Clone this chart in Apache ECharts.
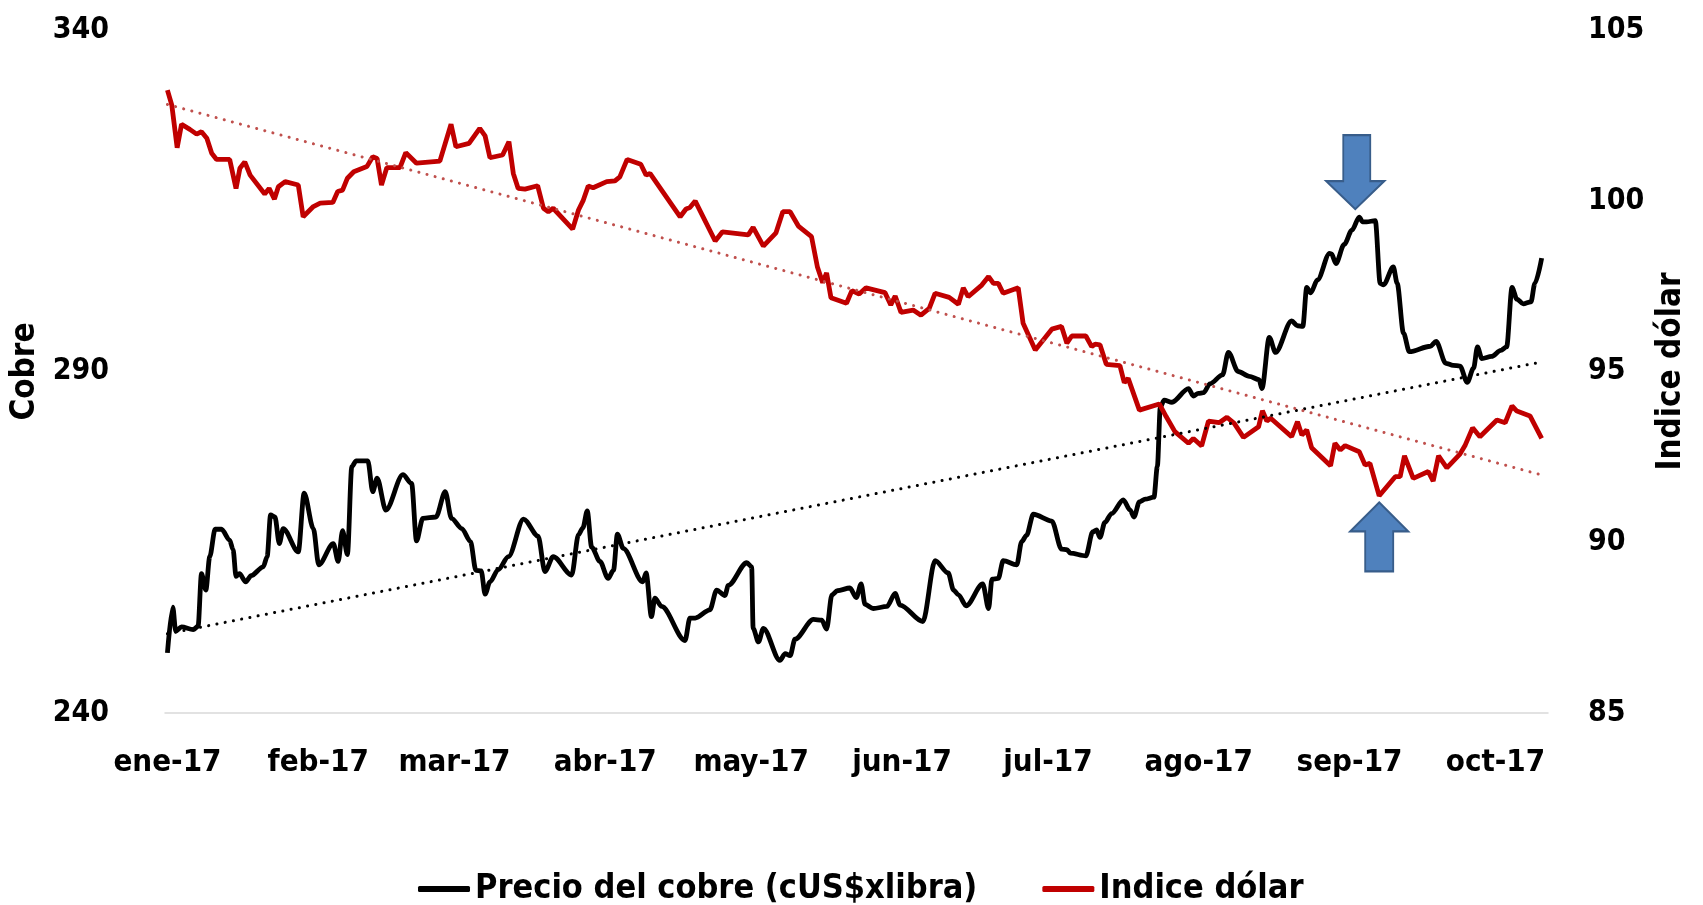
<!DOCTYPE html>
<html>
<head>
<meta charset="utf-8">
<title>Cobre vs Indice dólar</title>
<script src="https://cdn.jsdelivr.net/npm/echarts@6/dist/echarts.min.js"></script>
<style>
  html, body { margin: 0; padding: 0; background: #fff; }
  #chart { width: 1703px; height: 905px; }
</style>
</head>
<body>
<div id="chart"></div>
<script>
// x values are days counted from 3 Jan 2017
var monthDays = [0, 31, 59, 90, 120, 151, 181, 212, 243, 273];
var monthLabels = ['ene-17', 'feb-17', 'mar-17', 'abr-17', 'may-17', 'jun-17', 'jul-17', 'ago-17', 'sep-17', 'oct-17'];

var copperDay = [0,1.1,1.7,2.9,5.3,6.3,7.0,7.9,8.7,9.8,
  11.1,12.8,13.5,14.1,14.8,16.1,17.2,19.7,20.5,21.2,
  22.1,23.0,23.8,26.9,28.1,30.0,31.1,34.1,35.1,36.0,
  37.0,37.9,38.8,41.2,42.2,43.1,44.9,48.4,50.2,51.2,
  52.5,55.2,57.1,58.4,60.5,62.3,63.4,64.5,65.3,66.3,
  68.0,70.1,73.2,76.2,77.6,79.3,83.1,84.5,85.4,86.3,
  87.2,88.9,90.6,91.7,92.5,93.7,97.7,98.4,99.5,100.2,
  101.6,106.4,107.4,108.5,111.5,112.9,114.6,115.3,119.1,120.1,
  120.4,121.5,122.5,125.9,127.0,128.0,129.0,132.8,134.5,135.5,
  136.6,137.7,140.3,141.6,142.6,143.4,145.1,147.9,149.6,150.6,
  155.3,157.8,160.5,161.6,162.6,164.2,167.6,168.8,169.5,170.8,
  171.8,174.6,175.6,176.6,178.0,181.8,183.8,184.9,185.6,188.8,
  190.2,191.0,191.7,192.7,194.1,196.5,197.9,198.7,199.8,201.0,
  202.8,203.5,204.1,204.9,206.5,209.9,210.9,211.9,213.0,214.3,
  216.9,218.1,220.1,222.4,224.4,225.0,226.5,227.8,231.1,232.3,
  233.4,234.2,235.0,236.4,238.9,239.3,240.2,241.9,243.5,245.0,
  245.7,246.5,248.3,249.3,250.0,252.0,252.8,254.1,255.3,259.6,
  260.8,262.8,264.3,265.7,267.2,268.5,269.3,270.2,272.2,274.1,
  275.3,276.4,277.4,278.7,280.3,281.1,282.5];
var copperVal = [248.8,255.5,252.0,252.6,252.2,252.7,260.4,258.0,262.9,266.9,
  266.9,265.3,263.9,260.0,260.4,259.2,260.1,261.4,262.9,269.0,
  268.7,264.8,267.0,263.6,272.2,267.0,261.7,264.8,262.2,266.7,
  263.2,276.1,276.9,276.9,272.4,274.4,269.7,274.9,273.6,265.2,
  268.5,268.7,272.4,268.5,267.0,265.1,260.9,260.8,257.4,259.2,
  261.0,262.9,268.4,265.9,260.7,262.9,260.2,266.1,267.1,269.6,
  264.3,262.2,259.7,260.9,266.2,264.1,259.2,260.5,254.1,256.8,
  255.6,250.6,253.9,253.9,255.1,258.0,257.2,258.7,262.0,261.4,
  252.4,250.4,252.4,247.7,248.7,248.4,250.8,253.7,253.6,252.3,
  257.3,257.9,258.3,256.9,258.9,255.9,255.3,255.6,257.5,255.8,
  253.4,262.3,260.5,258.0,257.3,255.7,258.9,255.3,259.6,259.7,
  262.3,261.7,265.1,266.0,269.1,268.1,264.0,263.9,263.4,263.0,
  266.5,266.8,265.7,267.9,269.2,271.2,269.7,268.7,270.9,271.3,
  271.6,276.1,284.8,285.8,285.5,287.5,286.4,286.8,286.9,288.2,
  289.5,292.8,290.0,289.3,288.8,287.5,295.0,292.8,297.4,296.7,
  296.6,302.3,301.5,303.4,307.3,307.2,305.8,308.6,310.7,312.6,
  311.9,311.9,312.1,302.9,302.7,305.3,302.9,295.6,292.9,293.7,
  294.4,291.2,290.9,290.8,288.4,290.5,293.6,291.9,292.2,293.1,
  293.6,302.3,300.6,299.9,300.2,302.9,306.6];

var dollarDay = [0,0.9,2.0,2.9,4.6,6.0,7.0,8.1,9.1,10.1,
  12.8,14.1,14.9,15.9,17.0,20.0,20.9,22.0,22.8,24.2,
  26.9,27.9,30.0,31.4,34.0,35.0,36.0,37.0,38.3,41.0,
  42.2,43.1,44.0,45.1,47.8,49.0,51.2,56.0,58.3,59.3,
  62.0,64.2,65.3,66.3,68.9,70.2,71.1,72.1,73.5,76.1,
  77.3,78.3,79.3,83.3,84.5,85.5,86.5,87.5,90.3,92.0,
  93.0,94.5,97.3,98.4,99.2,105.4,106.6,107.4,108.5,112.6,
  114.1,119.4,120.4,122.5,125.1,126.5,128.0,129.7,132.4,133.6,
  134.7,135.5,136.4,139.6,140.7,142.2,143.6,147.5,148.7,149.6,
  150.8,153.3,154.9,156.6,157.8,160.7,162.6,163.6,164.6,167.4,
  168.8,169.8,170.8,171.8,174.9,175.9,178.4,181.8,183.8,184.9,
  185.9,188.8,190.0,190.7,191.7,193.0,195.8,196.7,197.5,199.8,
  203.9,205.3,207.1,209.9,210.9,212.6,214.0,216.2,217.8,219.3,
  221.2,224.3,225.1,226.0,226.8,231.1,232.3,233.2,234.2,235.2,
  239.1,240.0,241.1,242.1,245.0,246.2,247.2,249.1,252.4,253.4,
  254.3,256.1,259.2,260.2,261.3,263.0,265.7,266.8,268.3,269.8,
  273.3,275.0,276.4,277.4,280.1,282.5];
var dollarVal = [103.24,102.80,101.55,102.24,102.09,101.95,102.02,101.83,101.39,101.21,
  101.21,100.36,100.95,101.14,100.75,100.20,100.36,100.05,100.41,100.56,
  100.46,99.53,99.83,99.93,99.95,100.27,100.31,100.66,100.85,101.00,
  101.29,101.24,100.46,100.97,100.97,101.41,101.10,101.16,102.24,101.58,
  101.68,102.12,101.90,101.26,101.34,101.73,100.80,100.36,100.34,100.44,
  99.78,99.68,99.78,99.17,99.73,100.02,100.43,100.38,100.56,100.58,
  100.70,101.21,101.07,100.75,100.80,99.53,99.76,99.80,99.99,98.82,
  99.09,99.00,99.22,98.67,99.06,99.68,99.68,99.26,98.95,98.07,
  97.60,97.89,97.16,97.00,97.37,97.27,97.45,97.31,96.95,97.21,
  96.73,96.80,96.65,96.85,97.29,97.17,96.97,97.45,97.19,97.53,
  97.78,97.58,97.58,97.29,97.45,96.41,95.63,96.24,96.32,95.83,
  96.04,96.04,95.73,95.80,95.78,95.21,95.17,94.67,94.80,93.87,
  94.05,93.68,93.24,92.90,93.04,92.82,93.55,93.50,93.66,93.48,
  93.07,93.38,93.85,93.55,93.63,93.09,93.53,93.14,93.29,92.77,
  92.24,92.90,92.70,92.83,92.65,92.26,92.31,91.36,91.92,91.92,
  92.53,91.87,92.07,91.79,92.53,92.18,92.58,92.85,93.35,93.09,
  93.58,93.50,93.99,93.84,93.70,93.04];

// linear trend lines, end points
var trendDay = [0, 282.5];
var copperTrend = [251.6, 291.4];
var dollarTrend = [102.82, 91.97];

function pairs(xs, ys) {
  var out = [];
  for (var i = 0; i < xs.length; i++) out.push([xs[i], ys[i]]);
  return out;
}

var FONT = "'DejaVu Sans Condensed', 'DejaVu Sans', sans-serif";
var downArrow = 'path://M17,0 L44,0 L44,46 L58,46 L29,74 L0,46 L17,46 Z';
var upArrow = 'path://M29,0 L58,29 L43,29 L43,69 L15,69 L15,29 L0,29 Z';
var arrowStyle = { color: '#4f81bd', borderColor: '#385d8a', borderWidth: 2 };

var chart = echarts.init(document.getElementById('chart'));
var option = {
  animation: false,
  textStyle: { fontFamily: FONT, fontWeight: 'bold', color: '#000' },
  grid: { left: 165, right: 155, top: 30, bottom: 192, outerBoundsMode: 'none' },
  legend: {
    data: ['Precio del cobre (cUS$xlibra)', 'Indice dólar'],
    top: 867,
    left: 413,
    icon: 'roundRect',
    itemWidth: 52,
    itemHeight: 6,
    itemGap: 65,
    textStyle: { fontFamily: FONT, fontWeight: 'bold', fontSize: 34, color: '#000' }
  },
  xAxis: {
    type: 'value',
    min: -0.5,
    max: 283.8,
    axisLine: { show: true, lineStyle: { color: '#d9d9d9', width: 1.5 } },
    axisTick: { show: false },
    splitLine: { show: false },
    axisLabel: {
      customValues: monthDays,
      margin: 34,
      fontSize: 31,
      fontFamily: FONT,
      fontWeight: 'bold',
      color: '#000',
      formatter: function (v) { return monthLabels[monthDays.indexOf(v)] || ''; }
    }
  },
  yAxis: [{
    type: 'value',
    min: 240, max: 340, interval: 50,
    name: 'Cobre',
    nameLocation: 'middle',
    nameRotate: 90,
    nameGap: 107,
    nameTextStyle: { fontFamily: FONT, fontWeight: 'bold', fontSize: 33, color: '#000' },
    axisLine: { show: false },
    axisTick: { show: false },
    splitLine: { show: false },
    axisLabel: { margin: 56, fontSize: 30, fontFamily: FONT, fontWeight: 'bold', color: '#000' }
  }, {
    type: 'value',
    min: 85, max: 105, interval: 5,
    name: 'Indice dólar',
    nameLocation: 'middle',
    nameRotate: 90,
    nameGap: 61,
    nameTextStyle: { fontFamily: FONT, fontWeight: 'bold', fontSize: 33, color: '#000' },
    axisLine: { show: false },
    axisTick: { show: false },
    splitLine: { show: false },
    axisLabel: { margin: 40, fontSize: 30, fontFamily: FONT, fontWeight: 'bold', color: '#000' }
  }],
  series: [{
    name: 'Precio del cobre (cUS$xlibra)',
    type: 'line',
    yAxisIndex: 0,
    data: pairs(copperDay, copperVal),
    showSymbol: false,
    smooth: 0.3,
    smoothMonotone: 'x',
    color: '#000',
    lineStyle: { color: '#000', width: 4.8 },
    markPoint: {
      silent: true,
      symbol: downArrow,
      symbolSize: [58, 74],
      symbolOffset: [-4, -45],
      label: { show: false },
      itemStyle: arrowStyle,
      data: [{ type: 'max' }]
    }
  }, {
    name: 'Indice dólar',
    type: 'line',
    yAxisIndex: 1,
    data: pairs(dollarDay, dollarVal),
    showSymbol: false,
    color: '#c00000',
    lineStyle: { color: '#c00000', width: 4.8 },
    markPoint: {
      silent: true,
      symbol: upArrow,
      symbolSize: [58, 69],
      symbolOffset: [0, 41],
      label: { show: false },
      itemStyle: arrowStyle,
      data: [{ type: 'min' }]
    }
  }, {
    name: 'trend cobre',
    type: 'line',
    yAxisIndex: 0,
    data: pairs(trendDay, copperTrend),
    showSymbol: false,
    silent: true,
    lineStyle: { color: '#000', width: 3, type: [0.1, 8.3], cap: 'round' }
  }, {
    name: 'trend dolar',
    type: 'line',
    yAxisIndex: 1,
    data: pairs(trendDay, dollarTrend),
    showSymbol: false,
    silent: true,
    lineStyle: { color: '#c0504d', width: 3, type: [0.1, 8.3], cap: 'round' }
  }]
};
chart.setOption(option);
</script>
</body>
</html>
